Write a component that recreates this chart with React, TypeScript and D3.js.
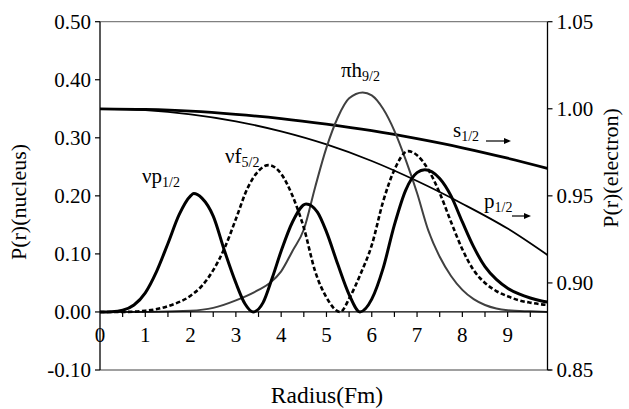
import React from "react";
import * as d3 from "d3";

const W = 629;
const H = 409;

const xTicks = [0, 1, 2, 3, 4, 5, 6, 7, 8, 9];
const xMinor = [0.5, 1, 1.5, 2, 2.5, 3, 3.5, 4, 4.5, 5, 5.5, 6, 6.5, 7, 7.5, 8, 8.5, 9, 9.5];
const leftTicks = [-0.1, 0, 0.1, 0.2, 0.3, 0.4, 0.5];
const rightTicks = [0.85, 0.9, 0.95, 1.0, 1.05];

// nucleus probability, left axis
const nuP12: [number, number][] = [
  [0, 0], [0.25, 0.0005], [0.5, 0.003], [0.75, 0.012], [1.0, 0.033], [1.25, 0.07], [1.5, 0.118],
  [1.75, 0.168], [2.0, 0.2], [2.07, 0.204], [2.25, 0.196], [2.5, 0.165], [2.75, 0.105], [3.0, 0.05],
  [3.2, 0.014], [3.38, 0], [3.6, 0.016], [3.8, 0.058], [4.0, 0.105], [4.25, 0.155], [4.55, 0.186],
  [4.8, 0.172], [5.0, 0.138], [5.25, 0.082], [5.5, 0.03], [5.74, 0], [6.0, 0.022], [6.25, 0.075],
  [6.5, 0.15], [6.75, 0.21], [7.0, 0.24], [7.17, 0.245], [7.5, 0.23], [7.75, 0.2], [8.0, 0.155],
  [8.25, 0.112], [8.5, 0.078], [8.75, 0.056], [9.0, 0.041], [9.25, 0.031], [9.5, 0.024], [9.75, 0.019],
  [9.88, 0.017],
];

const nuF52: [number, number][] = [
  [0, 0], [0.5, 0], [1.0, 0.002], [1.5, 0.01], [2.0, 0.028], [2.25, 0.045], [2.5, 0.072], [2.75, 0.11],
  [3.0, 0.16], [3.25, 0.212], [3.5, 0.243], [3.72, 0.253], [4.0, 0.238], [4.25, 0.2], [4.5, 0.145],
  [4.75, 0.07], [5.0, 0.025], [5.3, 0], [5.52, 0.026], [5.75, 0.065], [6.0, 0.115], [6.25, 0.19],
  [6.5, 0.245], [6.8, 0.277], [7.0, 0.27], [7.25, 0.245], [7.5, 0.205], [7.75, 0.155], [8.0, 0.108],
  [8.25, 0.072], [8.5, 0.05], [8.75, 0.036], [9.0, 0.027], [9.25, 0.02], [9.5, 0.016], [9.75, 0.013],
  [9.88, 0.012],
];

const piH92: [number, number][] = [
  [0, 0], [1.0, 0], [2.0, 0.002], [2.5, 0.007], [3.0, 0.02], [3.5, 0.038], [3.75, 0.05], [4.0, 0.07],
  [4.25, 0.105], [4.5, 0.142], [4.75, 0.215], [5.0, 0.283], [5.25, 0.335], [5.5, 0.368], [5.8, 0.378],
  [6.0, 0.373], [6.25, 0.35], [6.5, 0.312], [6.75, 0.262], [7.0, 0.205], [7.25, 0.14], [7.5, 0.095],
  [7.75, 0.062], [8.0, 0.038], [8.25, 0.022], [8.5, 0.012], [8.75, 0.006], [9.0, 0.003], [9.5, 0.001],
  [9.88, 0],
];

// electron probability, right axis
const eS12: [number, number][] = [
  [0, 1.0], [1, 0.9996], [2, 0.9986], [3, 0.9968], [4, 0.9944], [5, 0.9912], [6, 0.9874],
  [7, 0.9828], [8, 0.9776], [9, 0.9716], [9.88, 0.9658],
];

const eP12: [number, number][] = [
  [0, 1.0], [1, 0.9992], [2, 0.9968], [3, 0.9928], [4, 0.987], [5, 0.9795], [6, 0.97],
  [7, 0.9585], [8, 0.9455], [9, 0.9312], [9.88, 0.916],
];

const FONT = '"Liberation Serif", "Times New Roman", Times, serif';
const fmt = (v: number) => d3.format(".2f")(v).replace("\u2212", "-");

export default function App() {
  const x = d3.scaleLinear().domain([0, 9.88]).range([100, 547.5]);
  const yL = d3.scaleLinear().domain([-0.1, 0.5]).range([370, 21.7]);
  const yR = d3.scaleLinear().domain([0.85, 1.05]).range([370, 21.7]);

  const lineL = d3
    .line<[number, number]>()
    .x((d) => x(d[0]))
    .y((d) => yL(d[1]))
    .curve(d3.curveMonotoneX);
  const lineR = d3
    .line<[number, number]>()
    .x((d) => x(d[0]))
    .y((d) => yR(d[1]))
    .curve(d3.curveMonotoneX);

  const x0 = x(0);
  const x1 = x(9.88);
  const y0 = yL(0);
  const ts = { fontFamily: FONT } as React.CSSProperties;

  const arrow = (xa: number, xb: number, ya: number) => (
    <g>
      <line x1={xa} x2={xb - 4} y1={ya} y2={ya} stroke="#000" strokeWidth={1.2} />
      <path d={`M${xb},${ya} L${xb - 7},${ya - 3} L${xb - 7},${ya + 3} Z`} fill="#000" />
    </g>
  );

  return (
    <svg
      width={W}
      height={H}
      style={{ position: "absolute", left: 0, top: 0, background: "#fff", fontFamily: FONT }}
    >
      <rect x={0} y={0} width={W} height={H} fill="#fff" />
      <line x1={x0} x2={x1} y1={yL(0.5)} y2={yL(0.5)} stroke="#808080" strokeWidth={1.3} />
      <line x1={x0} x2={x1 + 4} y1={yL(-0.1)} y2={yL(-0.1)} stroke="#808080" strokeWidth={1.3} />

      <path d={lineR(eS12) || ""} fill="none" stroke="#000" strokeWidth={2.8} />
      <path d={lineR(eP12) || ""} fill="none" stroke="#000" strokeWidth={1.8} />
      <path d={lineL(piH92) || ""} fill="none" stroke="#404040" strokeWidth={2} />
      <path
        d={lineL(nuF52) || ""}
        fill="none"
        stroke="#000"
        strokeWidth={2.6}
        strokeDasharray="4.5,2.5"
      />
      <path d={lineL(nuP12) || ""} fill="none" stroke="#000" strokeWidth={3} />

      <line x1={x0} x2={x0} y1={yL(0.5)} y2={yL(-0.1)} stroke="#000" strokeWidth={1.3} />
      {leftTicks.map((t) => (
        <g key={"l" + t}>
          <line x1={x0 - 5} x2={x0} y1={yL(t)} y2={yL(t)} stroke="#000" strokeWidth={1.2} />
          <text x={x0 - 9} y={yL(t) + 7} textAnchor="end" fontSize={21} style={ts}>
            {fmt(t)}
          </text>
        </g>
      ))}

      <line x1={x1} x2={x1} y1={yR(1.05)} y2={yR(0.85)} stroke="#000" strokeWidth={1.3} />
      {rightTicks.map((t) => (
        <g key={"r" + t}>
          <line x1={x1} x2={x1 + 5} y1={yR(t)} y2={yR(t)} stroke="#000" strokeWidth={1.2} />
          <text x={x1 + 9} y={yR(t) + 7} textAnchor="start" fontSize={21} style={ts}>
            {fmt(t)}
          </text>
        </g>
      ))}

      <line x1={x0} x2={x1} y1={y0} y2={y0} stroke="#000" strokeWidth={1.3} />
      {xMinor.map((t) => (
        <line key={"m" + t} x1={x(t)} x2={x(t)} y1={y0} y2={y0 + 5} stroke="#000" strokeWidth={1.2} />
      ))}
      {xTicks.map((t) => (
        <text key={"x" + t} x={x(t)} y={342} textAnchor="middle" fontSize={21} style={ts}>
          {t}
        </text>
      ))}

      <text x={327} y={403} textAnchor="middle" fontSize={23.5} style={ts}>
        Radius(Fm)
      </text>
      <text transform={`translate(26,202) rotate(-90)`} textAnchor="middle" fontSize={22} style={ts}>
        P(r)(nucleus)
      </text>
      <text transform={`translate(618,168) rotate(-90)`} textAnchor="middle" fontSize={22} style={ts}>
        P(r)(electron)
      </text>

      <text x={142} y={183} fontSize={21} style={ts}>
        νp<tspan fontSize={14} dy={4}>1/2</tspan>
      </text>
      <text x={225} y={163} fontSize={21} style={ts}>
        νf<tspan fontSize={14} dy={4}>5/2</tspan>
      </text>
      <text x={341} y={77} fontSize={21} style={ts}>
        πh<tspan fontSize={14} dy={4}>9/2</tspan>
      </text>
      <text x={453} y={137} fontSize={21} style={ts}>
        s<tspan fontSize={14} dy={4}>1/2</tspan>
      </text>
      <text x={484} y={208} fontSize={21} style={ts}>
        p<tspan fontSize={14} dy={4}>1/2</tspan>
      </text>
      {arrow(486, 511, 141)}
      {arrow(512, 531, 216)}
    </svg>
  );
}
